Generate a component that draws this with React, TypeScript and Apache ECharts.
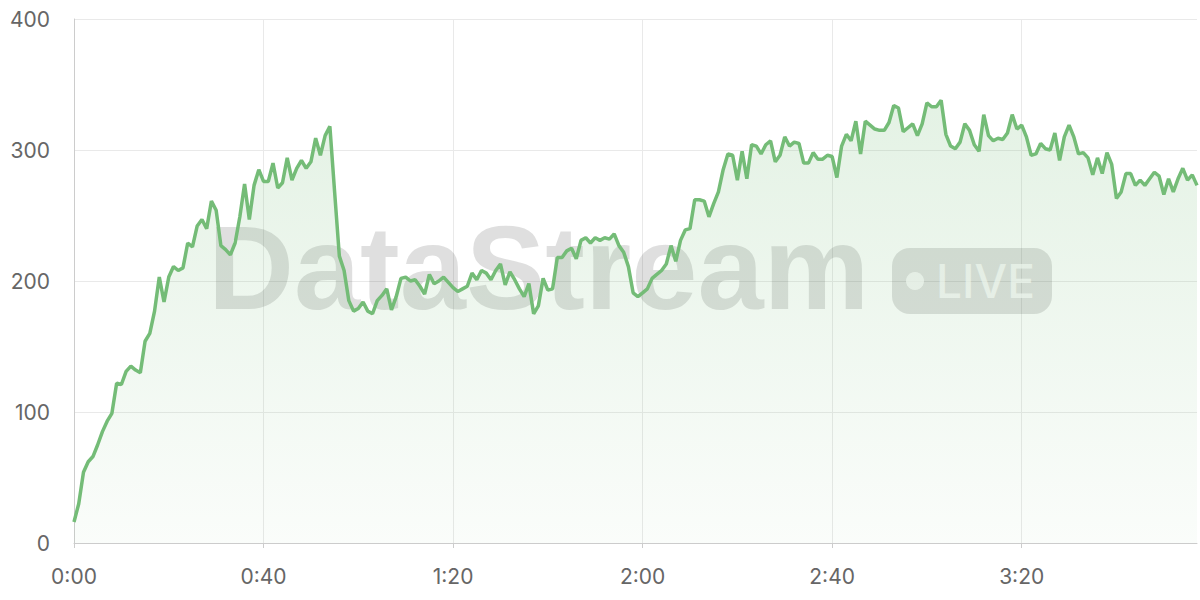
import { useEffect, useRef } from "react";
import * as echarts from "echarts";

// one sample per second, 0:00 -> 3:57
const rampUp = [
  16, 30, 54, 62, 66, 75, 85, 93, 99, 122, 121, 131, 135, 132, 130, 154, 160, 177, 203, 184,
  203, 211, 208, 210, 229, 226, 242, 247, 240, 261, 254, 227, 224, 220, 229, 249, 274, 247, 273, 285,
];
const firstPeakAndDrop = [
  276, 276, 290, 271, 275, 294, 277, 286, 292, 286, 291, 309, 296, 311, 318, 268, 219, 208, 185, 177,
  179, 184, 177, 175, 185, 189, 194, 178, 188, 202, 203, 200, 201, 196, 190, 205, 198, 200, 203, 199,
];
const midPlateau = [
  195, 192, 194, 196, 206, 201, 208, 206, 201, 208, 213, 197, 207, 201, 194, 188, 198, 175, 181, 202,
  193, 194, 218, 218, 223, 225, 217, 231, 233, 229, 233, 231, 233, 232, 236, 227, 222, 211, 191, 188,
];
const secondRise = [
  191, 194, 202, 205, 208, 213, 227, 215, 231, 239, 240, 262, 262, 261, 249, 259, 268, 285, 297, 296,
  277, 299, 278, 304, 303, 297, 304, 307, 291, 296, 310, 303, 306, 305, 290, 290, 298, 293, 293, 296,
];
const highPlateau = [
  295, 279, 303, 312, 307, 322, 297, 322, 319, 316, 315, 315, 321, 334, 332, 314, 317, 320, 311, 320,
  336, 333, 333, 338, 312, 303, 301, 306, 320, 315, 304, 299, 327, 311, 307, 309, 308, 313, 327, 316,
];
const tail = [
  319, 310, 296, 297, 305, 301, 300, 313, 292, 310, 319, 310, 297, 298, 294, 281, 294, 282, 298, 289,
  263, 268, 282, 282, 273, 277, 273, 278, 283, 280, 266, 278, 268, 278, 286, 277, 281, 273,
];

const values = [...rampUp, ...firstPeakAndDrop, ...midPlateau, ...secondRise, ...highPlateau, ...tail];

// tick labels m:ss
const timeLabels = values.map((_, s) => `${Math.floor(s / 60)}:${String(s % 60).padStart(2, "0")}`);

const GREEN = "#74bc77";

export default function App() {
  const chartRef = useRef<HTMLDivElement>(null);

  useEffect(() => {
    if (!chartRef.current) return;
    const chart = echarts.init(chartRef.current, null, { renderer: "svg" });

    const option: echarts.EChartsOption = {
      animation: false,
      backgroundColor: "#fff",
      grid: { left: 74, right: 3, top: 19, bottom: 57 },
      graphic: [
        {
          type: "text",
          z: 1,
          left: 208,
          top: 208,
          style: {
            text: "DataStream",
            font: "bold 119px 'Liberation Sans', Arial, sans-serif",
            fill: "rgba(40,40,40,0.15)",
          },
        },
        {
          type: "rect",
          z: 1,
          shape: { x: 892, y: 248, width: 160, height: 66, r: 18 },
          style: { fill: "rgba(40,40,40,0.15)" },
        },
        {
          type: "circle",
          z: 1,
          shape: { cx: 915, cy: 281, r: 9 },
          style: { fill: "rgba(255,255,255,0.72)" },
        },
        {
          type: "text",
          z: 1,
          x: 936,
          y: 281,
          style: {
            text: "LIVE",
            font: "500 46px Inter, 'Liberation Sans', sans-serif",
            fill: "rgba(255,255,255,0.72)",
            verticalAlign: "middle",
          },
        },
      ],
      xAxis: {
        type: "category",
        data: timeLabels,
        boundaryGap: false,
        axisLine: { lineStyle: { color: "#ccc" } },
        axisTick: { show: true, interval: 39, length: 5, lineStyle: { color: "#ccc" } },
        axisLabel: {
          interval: 39,
          color: "#666",
          fontSize: 21,
          fontFamily: "Inter, sans-serif",
          margin: 23,
        },
        splitLine: { show: true, interval: 39, lineStyle: { color: "#e9e9e9" } },
      },
      yAxis: {
        type: "value",
        min: 0,
        max: 400,
        interval: 100,
        axisLine: { show: true, lineStyle: { color: "#ccc" } },
        axisLabel: {
          color: "#666",
          fontSize: 21,
          fontFamily: "Inter, sans-serif",
          margin: 24,
        },
        splitLine: { lineStyle: { color: "#e9e9e9" } },
      },
      series: [
        {
          type: "line",
          data: values,
          symbol: "none",
          lineStyle: { color: GREEN, width: 3.5 },
          areaStyle: {
            color: new echarts.graphic.LinearGradient(0, 0, 0, 1, [
              { offset: 0, color: "rgba(116,188,119,0.28)" },
              { offset: 1, color: "rgba(116,188,119,0.05)" },
            ]),
          },
        },
      ],
    };

    chart.setOption(option);
    return () => chart.dispose();
  }, []);

  return (
    <div
      ref={chartRef}
      style={{ position: "fixed", left: 0, top: 0, width: 1200, height: 600 }}
    />
  );
}
